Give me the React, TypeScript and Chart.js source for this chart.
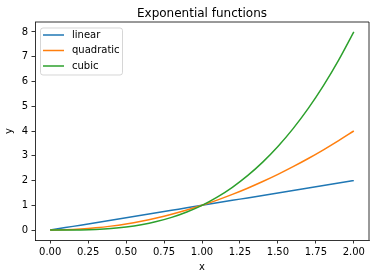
import React, { useEffect, useRef } from "react";
import { Chart, registerables } from "chart.js";

Chart.register(...registerables);

const TITLE = "Exponential functions";
const X_LABEL = "x";
const Y_LABEL = "y";
const SERIES_NAMES = ["linear", "quadratic", "cubic"];
const SERIES_COLORS = ["#1f77b4", "#ff7f0e", "#2ca02c"];

const xValues = [0, 0.1, 0.2, 0.3, 0.4, 0.5, 0.6, 0.7, 0.8, 0.9, 1.0, 1.1, 1.2, 1.3, 1.4, 1.5, 1.6, 1.7, 1.8, 1.9, 2.0];
const linearValues = [0, 0.1, 0.2, 0.3, 0.4, 0.5, 0.6, 0.7, 0.8, 0.9, 1.0, 1.1, 1.2, 1.3, 1.4, 1.5, 1.6, 1.7, 1.8, 1.9, 2.0];
const quadraticValues = [0, 0.01, 0.04, 0.09, 0.16, 0.25, 0.36, 0.49, 0.64, 0.81, 1.0, 1.21, 1.44, 1.69, 1.96, 2.25, 2.56, 2.89, 3.24, 3.61, 4.0];
const cubicValues = [0, 0.001, 0.008, 0.027, 0.064, 0.125, 0.216, 0.343, 0.512, 0.729, 1.0, 1.331, 1.728, 2.197, 2.744, 3.375, 4.096, 4.913, 5.832, 6.859, 8.0];

const FONT = "'DejaVu Sans', sans-serif";

const frameAndLegend = {
  id: "frameAndLegend",
  afterLayout(chart: any) {
    const tb = chart.titleBlock;
    if (tb) {
      tb.left = chart.chartArea.left;
      tb.right = chart.chartArea.right;
    }
  },
  afterDatasetsDraw(chart: any) {
    const { ctx, chartArea } = chart;
    const { left, right, top, bottom } = chartArea;
    ctx.save();
    ctx.strokeStyle = "#000";
    ctx.lineWidth = 0.8;
    ctx.beginPath();
    ctx.moveTo(left, top);
    ctx.lineTo(right, top);
    ctx.lineTo(right, bottom);
    ctx.stroke();

    const bx = left + 5.5;
    const by = top + 6;
    const bw = 82;
    const bh = 47;
    const r = 2.5;
    ctx.beginPath();
    ctx.moveTo(bx + r, by);
    ctx.lineTo(bx + bw - r, by);
    ctx.arcTo(bx + bw, by, bx + bw, by + r, r);
    ctx.lineTo(bx + bw, by + bh - r);
    ctx.arcTo(bx + bw, by + bh, bx + bw - r, by + bh, r);
    ctx.lineTo(bx + r, by + bh);
    ctx.arcTo(bx, by + bh, bx, by + bh - r, r);
    ctx.lineTo(bx, by + r);
    ctx.arcTo(bx, by, bx + r, by, r);
    ctx.closePath();
    ctx.fillStyle = "rgba(255,255,255,0.8)";
    ctx.fill();
    ctx.strokeStyle = "rgba(204,204,204,0.8)";
    ctx.lineWidth = 1;
    ctx.stroke();

    ctx.font = `10px ${FONT}`;
    ctx.textBaseline = "middle";
    ctx.textAlign = "left";
    SERIES_NAMES.forEach((name, i) => {
      const y = by + 7 + i * 15.5;
      ctx.strokeStyle = SERIES_COLORS[i];
      ctx.lineWidth = 1.5;
      ctx.beginPath();
      ctx.moveTo(bx + 2.5, y);
      ctx.lineTo(bx + 23.5, y);
      ctx.stroke();
      ctx.fillStyle = "#000";
      ctx.fillText(name, bx + 31.5, y);
    });
    ctx.restore();
  },
};

export default function App() {
  const ref = useRef<HTMLCanvasElement | null>(null);

  useEffect(() => {
    const canvas = ref.current;
    if (!canvas) return;
    const seriesValues = [linearValues, quadraticValues, cubicValues];
    const chart = new Chart(canvas, {
      type: "line",
      data: {
        datasets: seriesValues.map((vals, i) => ({
          label: SERIES_NAMES[i],
          data: xValues.map((x, j) => ({ x, y: vals[j] })),
          borderColor: SERIES_COLORS[i],
          backgroundColor: SERIES_COLORS[i],
          borderWidth: 1.5,
          pointRadius: 0,
          cubicInterpolationMode: "monotone" as const,
          fill: false,
          order: 2 - i,
        })),
      },
      options: {
        animation: false,
        responsive: false,
        devicePixelRatio: 1,
        layout: { padding: { left: 0, top: 0, bottom: 0, right: 11 } },
        plugins: {
          legend: { display: false },
          tooltip: { enabled: false },
          title: {
            display: true,
            text: TITLE,
            color: "#000",
            font: { family: FONT, size: 12, weight: "normal" as any, lineHeight: 1.2 },
            padding: { top: 6.2, bottom: 1.4 },
          },
        },
        scales: {
          x: {
            type: "linear",
            min: -0.1,
            max: 2.1,
            afterFit: (s: any) => { s.height = 38; s.paddingRight = 0; s.paddingLeft = 0; },
            grid: { drawOnChartArea: false, drawTicks: true, tickLength: 3.5, color: "#000", lineWidth: 0.8 },
            border: { display: true, color: "#000", width: 0.8 },
            ticks: {
              stepSize: 0.25,
              includeBounds: false,
              autoSkip: false,
              maxRotation: 0,
              padding: 3,
              color: "#000",
              font: { family: FONT, size: 10 },
              callback: (v: any) => Number(v).toFixed(2),
            },
            title: {
              display: true,
              text: X_LABEL,
              color: "#000",
              font: { family: FONT, size: 10, lineHeight: 1.2 },
              padding: { top: 0, bottom: 5 },
            },
          },
          y: {
            type: "linear",
            min: -0.4,
            max: 8.4,
            afterFit: (s: any) => { s.width = 35; s.paddingTop = 0; s.paddingBottom = 0; },
            grid: { drawOnChartArea: false, drawTicks: true, tickLength: 3.5, color: "#000", lineWidth: 0.8 },
            border: { display: true, color: "#000", width: 0.8 },
            ticks: {
              stepSize: 1,
              includeBounds: false,
              autoSkip: false,
              padding: 3.5,
              color: "#000",
              font: { family: FONT, size: 10 },
              callback: (v: any) => String(Math.round(Number(v))),
            },
            title: {
              display: true,
              text: Y_LABEL,
              color: "#000",
              font: { family: FONT, size: 10, lineHeight: 1.2 },
              padding: { top: 3, bottom: 0 },
            },
          },
        },
      },
      plugins: [frameAndLegend],
    });
    return () => chart.destroy();
  }, []);

  return (
    <div style={{ position: "fixed", left: 0, top: 0, width: 380, height: 278, background: "#fff" }}>
      <canvas ref={ref} width={380} height={278} style={{ display: "block", width: 380, height: 278 }} />
    </div>
  );
}
